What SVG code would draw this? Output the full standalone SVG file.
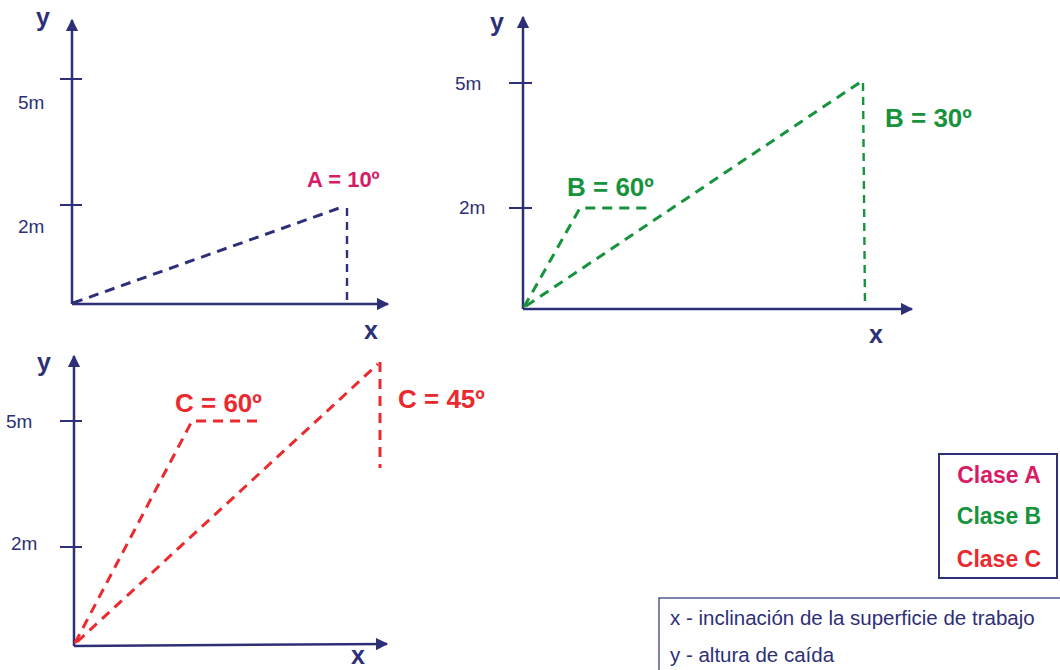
<svg xmlns="http://www.w3.org/2000/svg" width="1060" height="670" viewBox="0 0 1060 670">
<style>
.ax{stroke:#2e3077;stroke-width:2.5;fill:none}
.tk{stroke:#2e3077;stroke-width:2;fill:none}
.dA{stroke:#2e3077;stroke-width:3;stroke-dasharray:10 7;fill:none}
.dB{stroke:#16933c;stroke-width:3;stroke-dasharray:10 7;fill:none}
.dC{stroke:#ea2a2e;stroke-width:3;stroke-dasharray:10 7;fill:none}
.v{stroke-width:2.4;stroke-dasharray:8 6}
.lab{font-family:"Liberation Sans",Arial,sans-serif;font-size:19px;fill:#2e3077}
.axl{font-family:"Liberation Sans",Arial,sans-serif;font-size:25px;font-weight:bold;fill:#2e3077}
.ang{font-family:"Liberation Sans",Arial,sans-serif;font-size:26px;font-weight:bold}
.cl{font-family:"Liberation Sans",Arial,sans-serif;font-size:23px;font-weight:bold;text-anchor:middle}
.note{font-family:"Liberation Sans",Arial,sans-serif;font-size:20.5px;fill:#2e3077}
</style>
<defs>
<marker id="arr" viewBox="0 0 10 10" refX="9" refY="5" markerWidth="5" markerHeight="5" orient="auto" markerUnits="strokeWidth">
<path d="M0,0 L10,5 L0,10 Z" fill="#2e3077"/>
</marker>
</defs>
<rect width="1060" height="670" fill="#ffffff"/>

<g id="panelA">
<line class="ax" x1="72" y1="304" x2="72" y2="20" marker-end="url(#arr)"/>
<line class="ax" x1="72" y1="304" x2="388" y2="304" marker-end="url(#arr)"/>
<line class="tk" x1="60" y1="79" x2="82" y2="79"/>
<line class="tk" x1="60" y1="205" x2="82" y2="205"/>
<text class="axl" x="36" y="26">y</text>
<text class="axl" x="364" y="339">x</text>
<text class="lab" x="18" y="109">5m</text>
<text class="lab" x="18" y="233">2m</text>
<path class="dA" d="M73,303 L345,206"/>
<path class="dA v" d="M347,208 L347,303"/>
<text class="ang" x="307" y="187" fill="#d81b65" style="font-size:22px">A = 10º</text>
</g>

<g id="panelB">
<line class="ax" x1="523" y1="309" x2="523" y2="17" marker-end="url(#arr)"/>
<line class="ax" x1="523" y1="309" x2="912" y2="309" marker-end="url(#arr)"/>
<line class="tk" x1="509" y1="83" x2="532" y2="83"/>
<line class="tk" x1="509" y1="208" x2="532" y2="208"/>
<text class="axl" x="490" y="31">y</text>
<text class="axl" x="869" y="343">x</text>
<text class="lab" x="455" y="90">5m</text>
<text class="lab" x="459" y="214">2m</text>
<path class="dB" d="M524,307 L580,208 L653,208"/>
<path class="dB" d="M526,306 L862,81"/>
<path class="dB v" d="M863,83 L865,306"/>
<text class="ang" x="567" y="196" fill="#16933c">B = 60º</text>
<text class="ang" x="885" y="127" fill="#16933c">B = 30º</text>
</g>

<g id="panelC">
<line class="ax" x1="74" y1="646" x2="74" y2="356" marker-end="url(#arr)"/>
<line class="ax" x1="74" y1="646" x2="387" y2="644" marker-end="url(#arr)"/>
<line class="tk" x1="60" y1="421" x2="82" y2="421"/>
<line class="tk" x1="60" y1="547" x2="82" y2="547"/>
<text class="axl" x="37" y="371">y</text>
<text class="axl" x="351" y="664">x</text>
<text class="lab" x="6" y="428">5m</text>
<text class="lab" x="11" y="550">2m</text>
<path class="dC" d="M75,643 L192,421 L262,421"/>
<path class="dC" d="M77,642 L378,364"/>
<path class="dC" d="M380,362 L380,468"/>
<text class="ang" x="175" y="412" fill="#ea2a2e">C = 60º</text>
<text class="ang" x="398" y="408" fill="#ea2a2e">C = 45º</text>
</g>

<g id="legend">
<rect x="939" y="454" width="118" height="124" fill="#ffffff" stroke="#2e3077" stroke-width="2"/>
<text class="cl" x="999" y="483" fill="#d81b65">Clase A</text>
<text class="cl" x="999" y="524" fill="#16933c">Clase B</text>
<text class="cl" x="999" y="567" fill="#ea2a2e">Clase C</text>
</g>

<g id="notes">
<rect x="659" y="598" width="405" height="80" fill="#ffffff" stroke="#2e3077" stroke-width="1.2"/>
<text class="note" x="670" y="625">x - inclinación de la superficie de trabajo</text>
<text class="note" x="670" y="662">y - altura de caída</text>
</g>
</svg>
